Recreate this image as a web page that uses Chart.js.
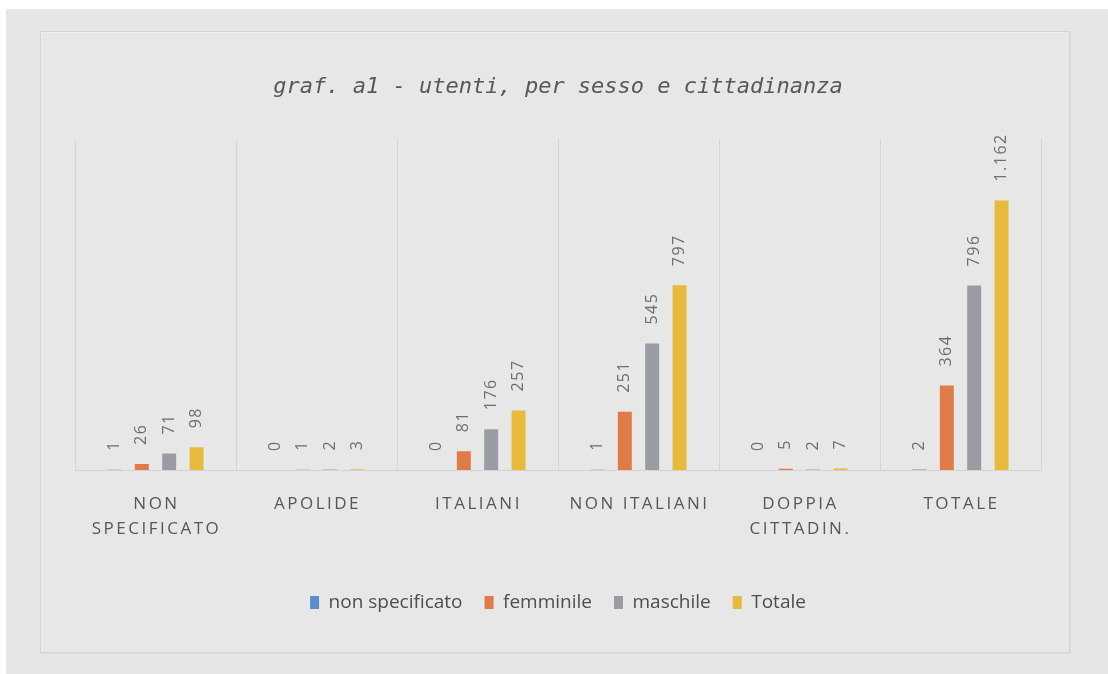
<!DOCTYPE html>
<html lang="it">
<head>
<meta charset="utf-8">
<title>graf. a1 - utenti, per sesso e cittadinanza</title>
<script src="https://cdn.jsdelivr.net/npm/chart.js@4.4.1/dist/chart.umd.min.js"></script>
<style>
  html, body { margin: 0; padding: 0; background: #ffffff; }
  #page {
    position: absolute; left: 6px; top: 9px; right: 0; bottom: 0;
    background: #e6e6e6;
  }
  #box {
    position: absolute; left: 40px; top: 31px; width: 1028px; height: 620px;
    border: 1px solid #d4d4d4;
    box-shadow: 1px 1px 0 #dcdcdc, inset 1px 1px 0 #eeeeee;
    background: #e7e7e7;
  }
</style>
</head>
<body>
<div id="page"></div>
<div id="box"><canvas id="chart"></canvas></div>
<script>
const categories = [
  ["NON", "SPECIFICATO"],
  ["APOLIDE"],
  ["ITALIANI"],
  ["NON ITALIANI"],
  ["DOPPIA", "CITTADIN."],
  ["TOTALE"],
];
const seriesNames = ["non specificato", "femminile", "maschile", "Totale"];
const nonSpecificato = [1, 0, 0, 1, 0, 2];
const femminile = [26, 1, 81, 251, 5, 364];
const maschile = [71, 2, 176, 545, 2, 796];
const totale = [98, 3, 257, 797, 7, 1162];
const seriesColors = ["#5b8dc8", "#df7b47", "#9a9ca4", "#e8ba3c"];

// numbers shown with dot as thousands separator (1.162)
const fmt = (v) => String(v).replace(/\B(?=(\d{3})+(?!\d))/g, ".");

// rotated value labels above each bar
const barLabels = {
  id: "barLabels",
  afterDatasetsDraw(chart) {
    const ctx = chart.ctx;
    ctx.save();
    ctx.font = '16px "Open Sans", sans-serif';
    ctx.fillStyle = "#6e6e6e";
    ctx.letterSpacing = "1.5px";
    ctx.textAlign = "left";
    ctx.textBaseline = "middle";
    chart.data.datasets.forEach((ds, i) => {
      const meta = chart.getDatasetMeta(i);
      meta.data.forEach((bar, j) => {
        ctx.save();
        ctx.translate(bar.x, bar.y - 19);
        ctx.rotate(-Math.PI / 2);
        ctx.fillText(fmt(ds.data[j]), 0, 0);
        ctx.restore();
      });
    });
    ctx.restore();
  },
};

// category names under the axis, spaced out
const catLabels = {
  id: "catLabels",
  afterDraw(chart) {
    const ctx = chart.ctx;
    const x = chart.scales.x;
    const bottom = chart.chartArea.bottom;
    ctx.save();
    ctx.font = '17px "Open Sans", sans-serif';
    ctx.fillStyle = "#575757";
    ctx.letterSpacing = "2.5px";
    ctx.textAlign = "center";
    ctx.textBaseline = "middle";
    categories.forEach((lines, i) => {
      const cx = x.getPixelForValue(i);
      lines.forEach((t, k) => ctx.fillText(t, cx + 1, bottom + 34 + k * 25));
    });
    ctx.restore();
  },
};

const values = [nonSpecificato, femminile, maschile, totale];

new Chart(document.getElementById("chart"), {
  type: "bar",
  data: {
    labels: categories.map((c) => c.join(" ")),
    datasets: values.map((data, i) => ({
      label: seriesNames[i],
      data,
      backgroundColor: seriesColors[i],
      categoryPercentage: 0.68,
      barPercentage: 0.51,
    })),
  },
  options: {
    responsive: true,
    maintainAspectRatio: false,
    animation: false,
    layout: { padding: { left: 34, right: 28, top: 0, bottom: 30 } },
    scales: {
      x: {
        grid: {
          offset: true,
          drawTicks: false,
          color: (c) => (c.index === categories.length ? "transparent" : "#d6d6d6"),
        },
        border: { display: true, color: "#d2d2d2" },
        ticks: { display: false },
        afterFit(scale) { scale.height = 101; },
      },
      y: { display: false, min: 0, max: 1430 },
    },
    plugins: {
      title: {
        display: true,
        text: "graf. a1 - utenti, per sesso e cittadinanza",
        color: "#585858",
        font: { family: '"DejaVu Sans Mono", monospace', size: 22, style: "italic", weight: "normal", lineHeight: 1.2 },
        padding: { top: 42, bottom: 38 },
      },
      legend: {
        position: "bottom",
        labels: {
          boxWidth: 9,
          boxHeight: 13,
          padding: 22,
          color: "#4e4e4e",
          font: { family: '"Open Sans", sans-serif', size: 19 },
        },
      },
      tooltip: { enabled: false },
    },
  },
  plugins: [barLabels, catLabels],
});
</script>
</body>
</html>
